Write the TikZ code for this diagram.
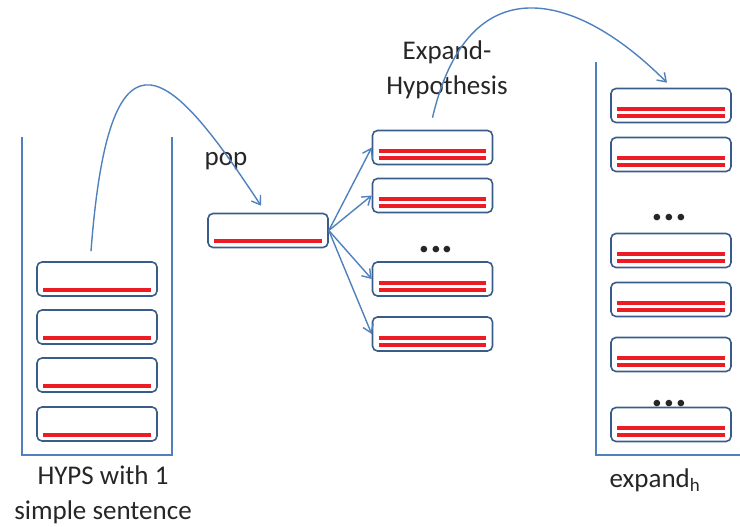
\documentclass[tikz,border=0pt]{standalone}
\usepackage{fontspec}
\setmainfont{Carlito}
\usetikzlibrary{arrows.meta}
\definecolor{wallblue}{RGB}{79,129,189}
\definecolor{boxblue}{RGB}{56,93,138}
\definecolor{hypred}{RGB}{237,28,36}
\tikzset{
  hyp/.style={draw=boxblue,line width=1.6pt,rounded corners=5pt,minimum width=120pt,minimum height=34pt,inner sep=0pt},
  wall/.style={draw=wallblue,line width=1.4pt},
  flow/.style={wallblue,line width=1.4pt,-{Straight Barb[length=8pt,width=11pt]}},
  redbar/.style={hypred,line width=4pt},
  lbl/.style={font=\fontsize{27}{35}\selectfont,align=center,text=black!85},
  dots/.style={font=\fontsize{44}{44}\selectfont\bfseries,anchor=base,inner sep=0pt,text=black!85}
}
\newcommand{\onebar}[1]{\draw[redbar] ([xshift=7pt,yshift=7pt]#1.south west) -- ([xshift=-7pt,yshift=7pt]#1.south east);}
\newcommand{\twobars}[1]{\onebar{#1}\draw[redbar] ([xshift=7pt,yshift=14pt]#1.south west) -- ([xshift=-7pt,yshift=14pt]#1.south east);}
\begin{document}
\begin{tikzpicture}[x=1pt,y=-1pt]
\useasboundingbox (0,0) rectangle (740,527);
% stack of hyps
\draw[wall] (22,137) |- (172,455) -- (172,137);
\foreach \i/\y in {1/279,2/327,3/375,4/424} {
  \node[hyp] (h\i) at (97,\y) {};
  \onebar{h\i}
}
\node[lbl] (hypslbl) at (103,495) {HYPS with 1\\simple sentence};
% popped hyp
\node[hyp] (pop) at (268,230.5) {};
\onebar{pop}
\node[lbl] (poplbl) at (226,161) {pop};
\draw[flow] ([xshift=-6pt,yshift=10pt]h1.north) .. controls (110,0) and (175,75) .. ([xshift=-7pt,yshift=7pt]pop.north);
% expansions
\foreach \i/\y in {1/147.5,2/195.5,3/279,4/334} {
  \node[hyp] (e\i) at (432.5,\y) {};
  \twobars{e\i}
  \draw[flow] (pop.east) -- (e\i.west);
}
\node[dots] (edots) at (436,252.5) {...};
\node[lbl] (explbl) at (447,70) {Expand-\\Hypothesis};
% expand_h
\draw[wall] (596,62) |- (740,455);
\foreach \i/\y in {1/105.5,2/154.5,3/250.5,4/299.5,5/354.5,6/424.5} {
  \node[hyp] (x\i) at (671,\y) {};
  \twobars{x\i}
}
\node[dots] (xdots1) at (669.5,220.5) {...};
\node[dots] (xdots2) at (669.5,406.5) {...};
\node[lbl] (xlbl) at (655,480) {expand\textsubscript{h}};
\draw[flow] ([yshift=12pt]e1.north) .. controls (468,-35) and (575,-10) .. ([xshift=-4pt,yshift=5pt]x1.north);
\end{tikzpicture}
\end{document}
